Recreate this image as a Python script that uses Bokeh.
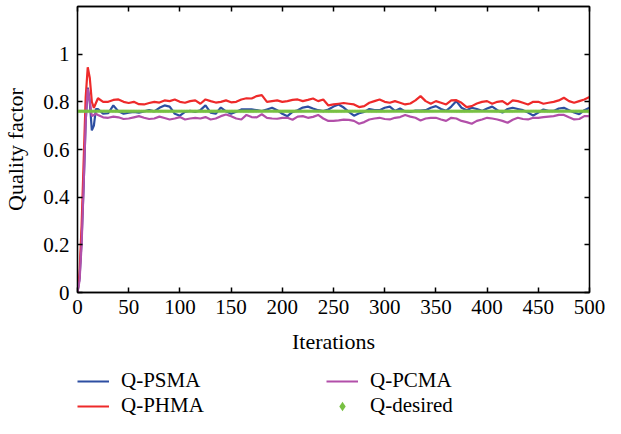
from bokeh.plotting import figure
from bokeh.layouts import column
from bokeh.models import (LinearAxis, Legend, LegendItem, FixedTicker, Range1d,
                          CustomLabelingPolicy)
from bokeh.embed import file_html
from bokeh.resources import INLINE

# ---------------- data ----------------
iterations = [0, 2, 4, 6, 8, 10, 12, 14, 16, 18, 20] + list(range(25, 501, 5))

q_phma = [0.000, 0.080, 0.280, 0.550, 0.820, 0.945, 0.900, 0.800, 0.775, 0.795, 0.815,
          0.800, 0.800, 0.808, 0.810, 0.800, 0.795, 0.800, 0.790, 0.789, 0.795,
          0.800, 0.797, 0.806, 0.803, 0.810, 0.800, 0.796, 0.803, 0.806, 0.792,
          0.810, 0.803, 0.797, 0.800, 0.806, 0.798, 0.800, 0.810, 0.815,
          0.814, 0.824, 0.828, 0.800, 0.803, 0.806, 0.800, 0.803, 0.808, 0.810,
          0.803, 0.808, 0.814, 0.803, 0.810, 0.785, 0.789, 0.792, 0.795, 0.792,
          0.789, 0.778, 0.782, 0.796, 0.803, 0.810, 0.800, 0.796, 0.803, 0.796,
          0.789, 0.793, 0.806, 0.824,
          0.803, 0.792, 0.803, 0.796, 0.789, 0.806, 0.807, 0.796, 0.778, 0.782,
          0.793, 0.800, 0.803, 0.792, 0.800, 0.803, 0.789, 0.806, 0.803, 0.796,
          0.789, 0.800, 0.800, 0.792, 0.796, 0.800, 0.806, 0.817, 0.803, 0.796,
          0.803, 0.810, 0.820]

q_psma = [0.000, 0.060, 0.220, 0.450, 0.720, 0.860, 0.800, 0.680, 0.700, 0.770, 0.770,
          0.750, 0.752, 0.785, 0.760, 0.750, 0.755, 0.758, 0.755, 0.760, 0.765,
          0.760, 0.775, 0.785, 0.780, 0.750, 0.742, 0.758, 0.762, 0.758, 0.765,
          0.785, 0.755, 0.750, 0.776, 0.760, 0.750, 0.758, 0.768, 0.768,
          0.768, 0.765, 0.761, 0.768, 0.775, 0.765, 0.750, 0.740, 0.758, 0.765,
          0.776, 0.780, 0.772, 0.765, 0.761, 0.768, 0.780, 0.789, 0.776, 0.758,
          0.742, 0.752, 0.758, 0.770, 0.765, 0.765, 0.775, 0.780, 0.762, 0.772,
          0.760, 0.758, 0.763, 0.763,
          0.765, 0.775, 0.782, 0.770, 0.762, 0.780, 0.803, 0.775, 0.765, 0.775,
          0.770, 0.762, 0.772, 0.780, 0.765, 0.755, 0.770, 0.775, 0.770, 0.765,
          0.755, 0.742, 0.755, 0.768, 0.762, 0.762, 0.772, 0.775, 0.765, 0.755,
          0.748, 0.765, 0.775]

q_pcma = [0.000, 0.050, 0.200, 0.450, 0.720, 0.855, 0.800, 0.740, 0.745, 0.750, 0.745,
          0.735, 0.733, 0.738, 0.735, 0.728, 0.730, 0.735, 0.740, 0.733, 0.728,
          0.730, 0.738, 0.732, 0.726, 0.730, 0.736, 0.726, 0.730, 0.733, 0.730,
          0.736, 0.726, 0.730, 0.740, 0.747, 0.740, 0.730, 0.726, 0.745,
          0.736, 0.735, 0.748, 0.733, 0.730, 0.729, 0.733, 0.733, 0.725, 0.738,
          0.740, 0.733, 0.737, 0.745, 0.730, 0.720, 0.720, 0.722, 0.725, 0.724,
          0.720, 0.708, 0.715, 0.726, 0.730, 0.733, 0.728, 0.726, 0.733, 0.736,
          0.745, 0.738, 0.733, 0.722,
          0.730, 0.733, 0.733, 0.726, 0.720, 0.733, 0.730, 0.720, 0.715, 0.708,
          0.720, 0.726, 0.733, 0.730, 0.726, 0.720, 0.712, 0.725, 0.733, 0.728,
          0.726, 0.733, 0.733, 0.736, 0.738, 0.740, 0.745, 0.745, 0.735, 0.726,
          0.728, 0.740, 0.740]

q_desired_value = 0.76
desired_iterations = list(range(0, 501, 1))
q_desired = [q_desired_value] * len(desired_iterations)

x_ticks = list(range(0, 501, 50))
y_ticks = [0, 0.2, 0.4, 0.6, 0.8, 1]
y_tick_labels = ["0", "0.2", "0.4", "0.6", "0.8", "1"]

series_names = ["Q-PSMA", "Q-PHMA", "Q-PCMA", "Q-desired"]

# ---------------- styles ----------------
FONT = "Liberation Serif"
BLUE = "#2d4ea2"
RED = "#ee2a2a"
MAGENTA = "#b24fa9"
GREEN = "#78c043"
LW = 2.2


def draw_series(fig, diamond_size):
    r1 = fig.line(iterations, q_psma, line_color=BLUE, line_width=LW)
    r2 = fig.line(iterations, q_phma, line_color=RED, line_width=LW)
    r3 = fig.line(iterations, q_pcma, line_color=MAGENTA, line_width=LW)
    r4 = fig.scatter(desired_iterations, q_desired, marker="diamond", size=diamond_size,
                     fill_color=GREEN, line_color=None)
    return r1, r2, r3, r4


p = figure(width=605, height=364, output_backend="svg", toolbar_location=None,
           x_range=Range1d(0, 500), y_range=Range1d(0, 1.2),
           min_border_left=77, min_border_right=16, min_border_top=6,
           min_border_bottom=72)
p.grid.visible = False
p.outline_line_color = "black"
p.outline_line_width = 1.3
p.background_fill_color = "white"
p.border_fill_color = "white"

draw_series(p, 4)

# tick-only axes (top and right): no labels are kept
no_labels = CustomLabelingPolicy(code="""
try {
  for (const i of Array.from(indices)) { indices.unset(i) }
} catch (e) {}
return indices
""")


def style_axis(ax, labels=True):
    ax.axis_line_color = "black"
    ax.axis_line_width = 1.3
    ax.major_tick_line_color = "black"
    ax.major_tick_line_width = 1.5
    ax.major_tick_in = 5
    ax.major_tick_out = 0
    ax.minor_tick_line_color = None
    if labels:
        ax.major_label_text_font = FONT
        ax.major_label_text_font_size = "21px"
        ax.major_label_text_color = "black"
        ax.major_label_standoff = 7
        ax.axis_label_text_font = FONT
        ax.axis_label_text_font_size = "22px"
        ax.axis_label_text_font_style = "normal"
        ax.axis_label_text_color = "black"
    else:
        ax.major_label_text_font_size = "1px"
        ax.major_label_text_alpha = 0
        ax.major_label_standoff = 0
        ax.major_label_policy = no_labels


xa = p.xaxis[0]
xa.ticker = FixedTicker(ticks=x_ticks)
xa.axis_label = "Iterations"
style_axis(xa)
xa.axis_label_standoff = 12

ya = p.yaxis[0]
ya.ticker = FixedTicker(ticks=y_ticks)
ya.major_label_overrides = {t: l for t, l in zip(y_ticks, y_tick_labels)}
ya.axis_label = "Quality factor"
style_axis(ya)
ya.major_label_standoff = 8
ya.axis_label_standoff = 12

top = LinearAxis(ticker=FixedTicker(ticks=x_ticks))
style_axis(top, labels=False)
p.add_layout(top, "above")
right = LinearAxis(ticker=FixedTicker(ticks=y_ticks))
style_axis(right, labels=False)
p.add_layout(right, "right")

# ---------------- legend strip below the plot ----------------
# same series drawn again, but the strip's y range keeps them out of view;
# the strip only shows the legend for them.
lg = figure(width=605, height=54, output_backend="svg", toolbar_location=None,
            x_range=Range1d(0, 500), y_range=Range1d(10, 11),
            x_axis_location=None, y_axis_location=None,
            min_border_left=0, min_border_right=0, min_border_top=0,
            min_border_bottom=0)
lg.grid.visible = False
lg.outline_line_color = None
lg.background_fill_color = "white"
lg.border_fill_color = "white"

k_psma, k_phma, k_pcma, k_des = draw_series(lg, 8)

legend = Legend(
    items=[LegendItem(label=series_names[0], renderers=[k_psma]),
           LegendItem(label=series_names[1], renderers=[k_phma]),
           LegendItem(label=series_names[2], renderers=[k_pcma]),
           LegendItem(label=series_names[3], renderers=[k_des])],
    location=(0, 0), orientation="vertical", nrows=2,
    label_text_font=FONT, label_text_font_size="21px", label_text_color="black",
    glyph_width=32, glyph_height=24, label_height=18, label_width=205,
    label_standoff=12, spacing=0, padding=0, margin=0,
    border_line_color=None, background_fill_alpha=0)
lg.add_layout(legend)

layout = column(p, lg, spacing=0)
open("out.html", "w").write(file_html(layout, INLINE))
